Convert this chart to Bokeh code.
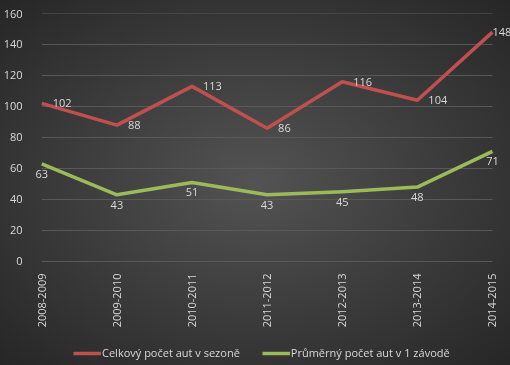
from bokeh.plotting import figure
from bokeh.models import ColumnDataSource, LabelSet, FixedTicker, Legend, LegendItem, Range1d
from bokeh.core.properties import value
from bokeh.embed import file_html
from bokeh.resources import INLINE

seasons = ["2008-2009", "2009-2010", "2010-2011", "2011-2012", "2012-2013", "2013-2014", "2014-2015"]
celkovy = [102, 88, 113, 86, 116, 104, 148]
prumerny = [63, 43, 51, 43, 45, 48, 71]
y_ticks = [0, 20, 40, 60, 80, 100, 120, 140, 160]

name_red = "Celkový počet aut v sezoně"
name_green = "Průměrný počet aut v 1 závodě"

RED = "#c0504d"
GREEN = "#9bbb59"
TXT = "#d9d9d9"
FONT = "Open Sans"
FS = "11px"

xs = list(range(len(seasons)))
n = len(seasons)

# frame reaches the bottom of the page so the legend (drawn inside it) is not clipped;
# the value 0 still sits at the same height as in the reference
p = figure(width=510, height=365, output_backend="svg", toolbar_location=None,
           x_range=Range1d(-0.15, n - 1 + 0.24), y_range=Range1d(-67.1, 160),
           min_border_left=29, min_border_right=1, min_border_top=13, min_border_bottom=0)
p.frame_width = 480
p.frame_height = 352
p.styles = {"position": "fixed", "left": "0px", "top": "0px",
            "background": "radial-gradient(ellipse farthest-corner at 50% 50%, #535353 0%, #262626 100%)"}
p.background_fill_color = None
p.border_fill_color = None
p.outline_line_color = None

# horizontal gridlines spanning the category extent
p.segment(x0=[0] * len(y_ticks), x1=[n - 1] * len(y_ticks), y0=y_ticks, y1=y_ticks,
          line_color="#5a5a5a", line_width=1, level="underlay")

src_r = ColumnDataSource(dict(x=xs, y=celkovy, lab=[str(v) for v in celkovy],
                              xoff=[11] * (n - 1) + [0]))
src_g = ColumnDataSource(dict(x=xs, y=prumerny, lab=[str(v) for v in prumerny]))

r1 = p.line("x", "y", source=src_r, line_color=RED, line_width=3.5, line_join="round")
r2 = p.line("x", "y", source=src_g, line_color=GREEN, line_width=3.5, line_join="round")

lr = LabelSet(x="x", y="y", text="lab", source=src_r, x_offset="xoff", y_offset=0,
              text_align="left", text_baseline="middle", text_color=TXT,
              text_font=value(FONT), text_font_size=value(FS))
lg = LabelSet(x="x", y="y", text="lab", source=src_g, y_offset=-6,
              text_align="center", text_baseline="top", text_color=TXT,
              text_font=value(FONT), text_font_size=value(FS))
p.add_layout(lr)
p.add_layout(lg)

# axes
p.yaxis.ticker = FixedTicker(ticks=y_ticks)
p.xaxis.ticker = FixedTicker(ticks=xs)
p.xaxis.fixed_location = 0
p.xaxis.major_label_overrides = {i: s for i, s in enumerate(seasons)}
p.xaxis.major_label_orientation = 1.5708
for ax in (p.xaxis, p.yaxis):
    ax.axis_line_color = None
    ax.major_tick_line_color = None
    ax.minor_tick_line_color = None
    ax.major_label_text_color = TXT
    ax.major_label_text_font = FONT
    ax.major_label_text_font_size = FS
p.yaxis.major_label_standoff = 2
p.xaxis.major_label_standoff = 6

p.xgrid.grid_line_color = None
p.ygrid.grid_line_color = None

legend = Legend(items=[LegendItem(label=name_red, renderers=[r1]),
                       LegendItem(label=name_green, renderers=[r2])],
                orientation="horizontal", location=(43, 5),
                background_fill_alpha=0, border_line_color=None,
                label_text_color=TXT, label_text_font=FONT, label_text_font_size=FS,
                glyph_width=28, glyph_height=12, label_standoff=1, spacing=22,
                padding=0, margin=0)
p.add_layout(legend, "center")

html = file_html(p, INLINE)
open("out.html", "w").write(html)
